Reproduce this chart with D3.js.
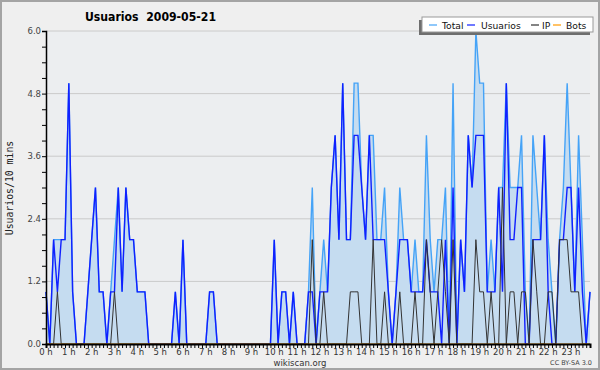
<!DOCTYPE html>
<html>
<head>
<meta charset="utf-8">
<script src="https://cdn.jsdelivr.net/npm/d3@7"></script>
<style>
  body { margin: 0; background: #fff; }
  svg { display: block; }
</style>
</head>
<body>
<div id="chart"></div>
<script>
// values per 10-minute slot, 144 slots for the day
const hours = d3.range(24).map(h => h + " h");
const yTicks = [0, 1.2, 2.4, 3.6, 4.8, 6.0];
const seriesNames = ["Total", "Usuarios", "IP", "Bots"];

const total = [
  1,0,2,2,2,2,5,1,0,0, 0,1,2,3,1,1,0,1,2,3, 1,3,2,2,1,1,1,0,0,0,
  0,0,0,0,1,0,2,0,0,0, 0,0,0,1,1,0,0,0,0,0, 0,0,0,0,0,0,0,0,0,0,
  2,0,1,1,0,1,0,0,0,1, 3,0,1,2,1,3,4,2,5,2, 2,5,5,3,2,4,4,2,2,3,
  1,0,1,3,2,2,1,2,1,1, 4,2,1,2,2,3,0,5,0,2, 1,4,3,6,5,5,1,2,1,3,
  3,5,3,3,3,4,1,0,4,3, 2,4,2,1,0,2,3,5,3,1, 4,2,0,1
];
const usuarios = [
  1,0,2,1,2,2,5,1,0,0, 0,1,2,3,1,1,0,1,1,3, 1,3,2,2,1,1,1,0,0,0,
  0,0,0,0,1,0,2,0,0,0, 0,0,0,1,1,0,0,0,0,0, 0,0,0,0,0,0,0,0,0,0,
  2,0,1,1,0,1,0,0,0,1, 1,0,1,1,1,3,4,2,5,2, 2,4,4,3,2,4,2,2,2,2,
  1,0,1,2,2,2,1,1,1,1, 2,1,1,1,0,2,0,3,0,2, 1,4,3,4,4,4,1,1,1,3,
  1,5,2,2,3,3,0,0,2,2, 2,4,1,0,0,2,2,3,3,1, 3,1,0,1
];
const ip = [
  0,0,0,1,0,0,0,0,0,0, 0,0,0,0,0,0,0,0,1,0, 0,0,0,0,0,0,0,0,0,0,
  0,0,0,0,0,0,0,0,0,0, 0,0,0,0,0,0,0,0,0,0, 0,0,0,0,0,0,0,0,0,0,
  0,0,0,0,0,0,0,0,0,0, 2,0,0,1,0,0,0,0,0,0, 1,1,1,0,0,0,2,0,0,1,
  0,0,0,1,0,0,0,1,0,0, 2,1,0,1,2,1,0,2,0,0, 0,0,0,2,1,1,0,1,0,0,
  3,0,1,1,0,1,1,0,2,1, 0,0,1,1,0,2,2,2,1,1, 1,0,0,0
];
const bots = [
  0,0,0,0,0,0,0,0,0,0, 0,0,0,0,0,0,0,0,0,0, 0,0,0,0,0,0,0,0,0,0,
  0,0,0,0,0,0,0,0,0,0, 0,0,0,0,0,0,0,0,0,0, 0,0,0,0,0,0,0,0,0,0,
  0,0,0,0,0,0,0,0,0,0, 0,0,0,0,0,0,0,0,0,0, 0,0,0,0,0,0,0,0,0,0,
  0,0,0,0,0,0,0,0,0,0, 0,0,0,0,0,0,0,0,0,0, 0,0,0,0,0,0,0,0,0,0,
  0,0,0,0,0,0,0,0,0,0, 0,0,0,0,0,0,0,0,0,0, 0,0,0,0
];

const colors = { Total: "#45a3f7", Usuarios: "#1020ff", IP: "#333333", Bots: "#ff9900" };

const W = 600, H = 370;
const margin = { top: 31, right: 10, bottom: 26, left: 46 };
const width = W - margin.left - margin.right;
const height = H - margin.top - margin.bottom;

const svg = d3.select("#chart").append("svg")
  .attr("width", W).attr("height", H)
  .style("font-family", "'DejaVu Sans', sans-serif");

// frame
svg.append("rect")
  .attr("x", 1).attr("y", 1).attr("width", W - 2).attr("height", H - 2)
  .attr("fill", "#efefef").attr("stroke", "#a4a4a4").attr("stroke-width", 2);

const g = svg.append("g").attr("transform", `translate(${margin.left},${margin.top})`);

g.append("rect").attr("width", width).attr("height", height).attr("fill", "#eceef0");

const x = d3.scaleLinear().domain([0, total.length - 1]).range([0, width]);
const y = d3.scaleLinear().domain([0, 6]).range([height, 0]);

// grid
g.selectAll(".grid").data(yTicks.slice(1)).enter().append("line")
  .attr("x1", 0).attr("x2", width)
  .attr("y1", d => y(d)).attr("y2", d => y(d))
  .attr("stroke", "#cacaca").attr("stroke-width", 1);

const area = d3.area().x((d, i) => x(i)).y0(height).y1(d => y(d));
const line = d3.line().x((d, i) => x(i)).y(d => y(d));

g.append("path").datum(total).attr("d", area).attr("fill", "#c5dcf0");
g.append("path").datum(total).attr("d", line).attr("fill", "none")
  .attr("stroke", colors.Total).attr("stroke-width", 1.4);
g.append("path").datum(usuarios).attr("d", line).attr("fill", "none")
  .attr("stroke", colors.Usuarios).attr("stroke-width", 1.4);
g.append("path").datum(ip).attr("d", line).attr("fill", "none")
  .attr("stroke", colors.IP).attr("stroke-width", 1);
g.append("path").datum(bots).attr("d", line).attr("fill", "none")
  .attr("stroke", colors.Bots).attr("stroke-width", 1);

// y axis
const yAxis = g.append("g")
  .call(d3.axisLeft(y).tickValues(d3.range(0, 6.01, 0.3)).tickSize(4).tickFormat(""));
yAxis.select(".domain").attr("stroke", "#000").attr("stroke-width", 1.5);
yAxis.selectAll(".tick line").attr("stroke", "#000");
g.selectAll(".ylab").data(yTicks).enter().append("text")
  .attr("x", -5).attr("y", d => y(d) + 3)
  .attr("text-anchor", "end")
  .attr("font-size", 8.5).attr("fill", "#444")
  .text(d => d3.format(".1f")(d));

// x axis: a tick for every slot, a label every hour
const xAxis = g.append("g").attr("transform", `translate(0,${height})`)
  .call(d3.axisBottom(x).tickValues(d3.range(0, 144)).tickSize(4).tickFormat(""));
xAxis.select(".domain").attr("stroke", "#000").attr("stroke-width", 2);
xAxis.selectAll(".tick line").attr("stroke", "#000");
g.selectAll(".xlab").data(hours).enter().append("text")
  .attr("x", (d, i) => x(i * 6))
  .attr("y", height + 10.5)
  .attr("text-anchor", "middle")
  .attr("font-size", 8.5).attr("fill", "#333")
  .text(d => d);

// titles
svg.append("text")
  .attr("x", 85).attr("y", 21)
  .attr("font-size", 12.5).attr("font-weight", "bold")
  .attr("textLength", 131).attr("lengthAdjust", "spacingAndGlyphs")
  .style("white-space", "pre")
  .text("Usuarios  2009-05-21");

svg.append("text")
  .attr("transform", "translate(13,188) rotate(-90)")
  .attr("text-anchor", "middle")
  .attr("font-family", "'DejaVu Sans Mono', monospace")
  .attr("font-size", 9.8).attr("fill", "#222")
  .text("Usuarios/10 mins");

svg.append("text")
  .attr("x", 300).attr("y", 365.5)
  .attr("text-anchor", "middle")
  .attr("font-size", 8.5).attr("fill", "#333")
  .text("wikiscan.org");

svg.append("text")
  .attr("x", 592).attr("y", 364.5)
  .attr("text-anchor", "end")
  .attr("font-size", 6.5).attr("fill", "#444")
  .text("CC BY-SA 3.0");

// legend
const legend = svg.append("g");
legend.append("rect").attr("x", 419).attr("y", 20).attr("width", 171).attr("height", 15).attr("fill", "#6e6e6e");
legend.append("rect").attr("x", 422).attr("y", 17).attr("width", 171).attr("height", 15)
  .attr("fill", "#fff").attr("stroke", "#999");
const legendX = [429, 467, 531, 553];
const labelX = [442, 481, 542, 566];
const items = legend.selectAll(".item").data(seriesNames).enter().append("g");
items.append("line")
  .attr("x1", (d, i) => legendX[i]).attr("x2", (d, i) => legendX[i] + 8)
  .attr("y1", 25).attr("y2", 25)
  .attr("stroke", d => colors[d]).attr("stroke-width", 1.2);
items.append("text")
  .attr("x", (d, i) => labelX[i]).attr("y", 28.5)
  .attr("font-size", 9.2).attr("fill", "#111")
  .text(d => d);
</script>
</body>
</html>
